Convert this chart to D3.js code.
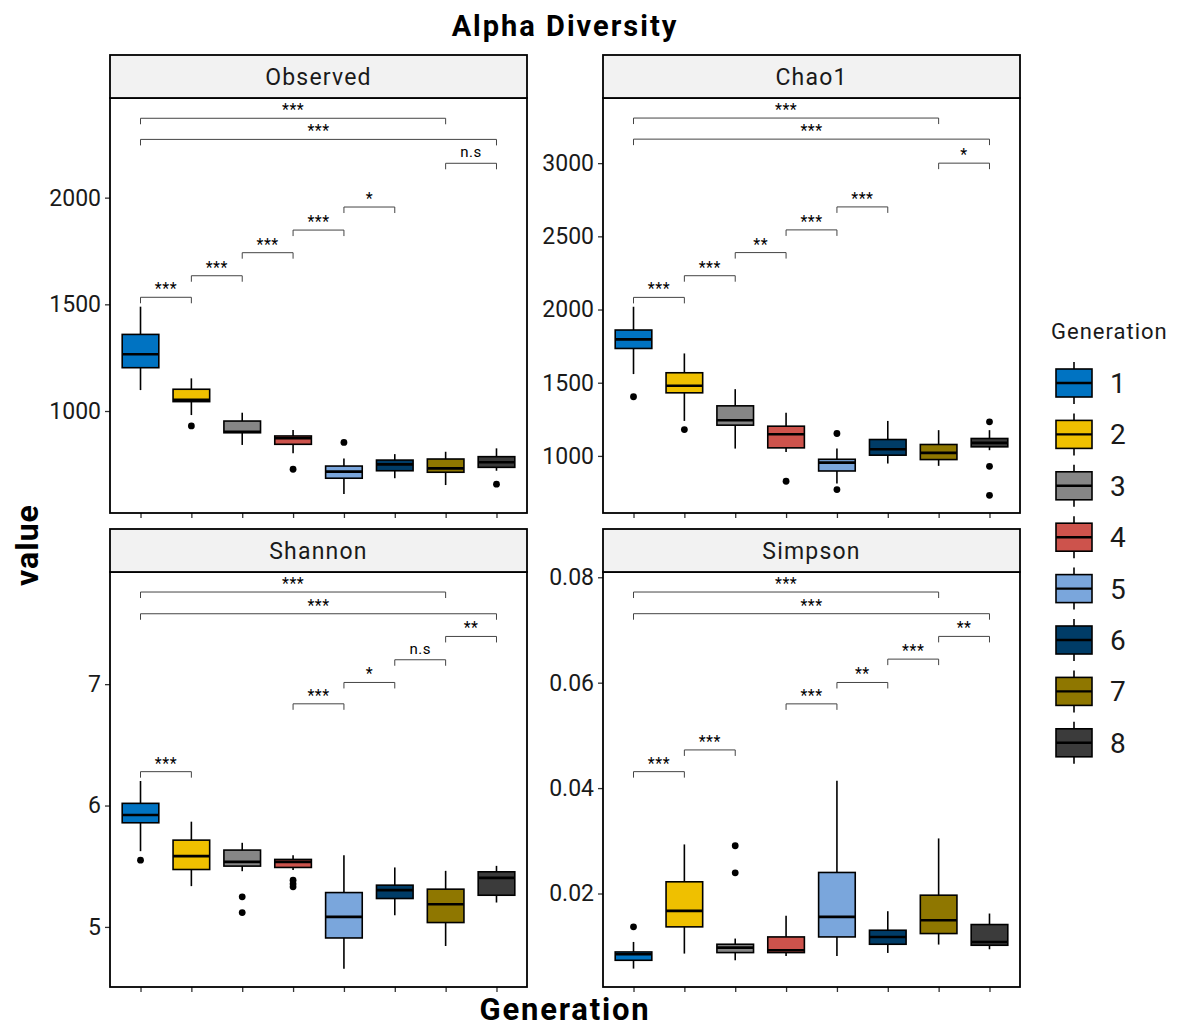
<!DOCTYPE html>
<html>
<head>
<meta charset="utf-8">
<script src="https://cdn.jsdelivr.net/npm/d3@7"></script>
<style>
  body { margin: 0; background: #fff; }
  svg { font-family: Roboto, "Noto Sans", sans-serif; }
</style>
</head>
<body>
<svg id="chart" width="1183" height="1029"></svg>
<script>
var generations = ["1", "2", "3", "4", "5", "6", "7", "8"];
var genColors = ["#0073C2", "#EFC000", "#868686", "#CD534C", "#7AA6DC", "#003C67", "#8F7700", "#3B3B3B"];
var metrics = ["Observed", "Chao1", "Shannon", "Simpson"];

// [lower whisker, Q1, median, Q3, upper whisker]
var observedStats = [
    [1098, 1203, 1266, 1359, 1489],
    [981, 1044, 1052, 1102, 1153],
    [841, 898, 903, 953, 992],
    [802, 844, 872, 883, 911],
    [611, 685, 716, 742, 778],
    [685, 720, 750, 770, 798],
    [653, 713, 731, 775, 809],
    [720, 736, 760, 786, 825]
];
var observedOutliers = [[], [930], [], [727], [853], [], [], [657]];

var chao1Stats = [
    [1559, 1734, 1796, 1860, 2019],
    [1239, 1431, 1479, 1568, 1700],
    [1050, 1210, 1244, 1342, 1456],
    [1027, 1055, 1148, 1203, 1294],
    [811, 897, 954, 977, 1050],
    [948, 1005, 1046, 1112, 1239],
    [932, 975, 1021, 1078, 1176],
    [1039, 1062, 1089, 1119, 1176]
];
var chao1Outliers = [[1404], [1180], [], [827], [1153, 770], [], [], [1233, 929, 731]];

var shannonStats = [
    [5.624, 5.858, 5.922, 6.018, 6.202],
    [5.336, 5.473, 5.583, 5.715, 5.867],
    [5.459, 5.501, 5.536, 5.633, 5.693],
    [5.468, 5.490, 5.536, 5.556, 5.591],
    [4.656, 4.909, 5.083, 5.283, 5.591],
    [5.096, 5.234, 5.303, 5.344, 5.490],
    [4.843, 5.036, 5.187, 5.311, 5.462],
    [5.201, 5.261, 5.404, 5.454, 5.503]
];
var shannonOutliers = [[5.550], [], [5.248, 5.118], [5.385, 5.355, 5.330], [], [], [], []];

var simpsonStats = [
    [0.00575, 0.00733, 0.00847, 0.00891, 0.01081],
    [0.00860, 0.01367, 0.01671, 0.02222, 0.02931],
    [0.00733, 0.00879, 0.00974, 0.01037, 0.01145],
    [0.00815, 0.00879, 0.00923, 0.01176, 0.01576],
    [0.00815, 0.01176, 0.01557, 0.02399, 0.04141],
    [0.00872, 0.01037, 0.01176, 0.01303, 0.01664],
    [0.01031, 0.01240, 0.01493, 0.01968, 0.03045],
    [0.00942, 0.01018, 0.01081, 0.01411, 0.01620]
];
var simpsonOutliers = [[0.01367], [], [0.02906, 0.02393], [], [], [], [], []];

// [from group, to group, bracket value, label]
var observedSig = [
    [1, 7, 2372, "***"], [1, 8, 2273, "***"], [7, 8, 2161, "n.s"],
    [5, 6, 1956, "*"], [4, 5, 1848, "***"], [3, 4, 1742, "***"],
    [2, 3, 1634, "***"], [1, 2, 1533, "***"]
];
var chao1Sig = [
    [1, 7, 3308, "***"], [1, 8, 3164, "***"], [7, 8, 3000, "*"],
    [5, 6, 2701, "***"], [4, 5, 2544, "***"], [3, 4, 2389, "**"],
    [2, 3, 2231, "***"], [1, 2, 2083, "***"]
];
var shannonSig = [
    [1, 7, 7.759, "***"], [1, 8, 7.580, "***"], [7, 8, 7.393, "**"],
    [6, 7, 7.201, "n.s"], [5, 6, 7.014, "*"], [4, 5, 6.838, "***"],
    [1, 2, 6.279, "***"]
];
var simpsonSig = [
    [1, 7, 0.07720, "***"], [1, 8, 0.07309, "***"], [7, 8, 0.06878, "**"],
    [6, 7, 0.06447, "***"], [5, 6, 0.06004, "**"], [4, 5, 0.05598, "***"],
    [2, 3, 0.04724, "***"], [1, 2, 0.04312, "***"]
];

var yDomains = [[522, 2467], [610, 3445], [4.505, 7.924], [0.00226, 0.0810]];
var yTicks = [[1000, 1500, 2000], [1000, 1500, 2000, 2500, 3000], [5, 6, 7], [0.02, 0.04, 0.06, 0.08]];

var panelData = [
    { stats: observedStats, outliers: observedOutliers, sig: observedSig, fmt: d3.format("d") },
    { stats: chao1Stats, outliers: chao1Outliers, sig: chao1Sig, fmt: d3.format("d") },
    { stats: shannonStats, outliers: shannonOutliers, sig: shannonSig, fmt: d3.format("d") },
    { stats: simpsonStats, outliers: simpsonOutliers, sig: simpsonSig, fmt: d3.format(".2f") }
];

var svg = d3.select("#chart");
var panelW = 417, panelH = 415, stripH = 43;
var panelX = [110, 603, 110, 603];
var panelY = [98, 98, 572, 572];

svg.append("text")
    .attr("x", 565).attr("y", 36)
    .attr("text-anchor", "middle")
    .attr("font-size", 29).attr("font-weight", "bold")
    .attr("letter-spacing", 2)
    .attr("fill", "#000")
    .text("Alpha Diversity");

metrics.forEach(function (name, i) {
    var d = panelData[i];
    var x0 = panelX[i], y0 = panelY[i];
    var g = svg.append("g");

    var x = d3.scalePoint().domain(generations).range([x0, x0 + panelW]).padding(0.6);
    var y = d3.scaleLinear().domain(yDomains[i]).range([y0 + panelH, y0]);
    var bw = x.step() * 0.72;

    // axes
    var yAxis = d3.axisLeft(y).tickValues(yTicks[i]).tickFormat(d.fmt).tickSize(5).tickPadding(4);
    var ya = g.append("g").attr("transform", "translate(" + x0 + ",0)").call(yAxis);
    ya.select(".domain").remove();
    ya.selectAll(".tick line").attr("stroke", "#333").attr("stroke-width", 1.3);
    ya.selectAll(".tick text").attr("font-size", 23).attr("fill", "#1a1a1a")
        .attr("font-family", "Roboto, sans-serif");

    var xAxis = d3.axisBottom(x).tickSize(5).tickFormat("");
    var xa = g.append("g").attr("transform", "translate(0," + (y0 + panelH) + ")").call(xAxis);
    xa.select(".domain").remove();
    xa.selectAll(".tick line").attr("stroke", "#333").attr("stroke-width", 1.3);

    // boxes
    var boxes = g.selectAll("g.box").data(d.stats).enter().append("g").classed("box", true);
    boxes.append("line")
        .attr("x1", function (s, j) { return x(generations[j]); })
        .attr("x2", function (s, j) { return x(generations[j]); })
        .attr("y1", function (s) { return y(s[0]); })
        .attr("y2", function (s) { return y(s[4]); })
        .attr("stroke", "#000").attr("stroke-width", 1.6);
    boxes.append("rect")
        .attr("x", function (s, j) { return x(generations[j]) - bw / 2; })
        .attr("y", function (s) { return y(s[3]); })
        .attr("width", bw)
        .attr("height", function (s) { return Math.max(0.5, y(s[1]) - y(s[3])); })
        .attr("fill", function (s, j) { return genColors[j]; })
        .attr("stroke", "#000").attr("stroke-width", 1.6);
    boxes.append("line")
        .attr("x1", function (s, j) { return x(generations[j]) - bw / 2; })
        .attr("x2", function (s, j) { return x(generations[j]) + bw / 2; })
        .attr("y1", function (s) { return y(s[2]); })
        .attr("y2", function (s) { return y(s[2]); })
        .attr("stroke", "#000").attr("stroke-width", 2.6);

    d.outliers.forEach(function (pts, j) {
        g.selectAll(null).data(pts).enter().append("circle")
            .attr("cx", x(generations[j]))
            .attr("cy", function (v) { return y(v); })
            .attr("r", 3.4)
            .attr("fill", "#000");
    });

    // significance brackets
    var sig = g.selectAll("g.sig").data(d.sig).enter().append("g").classed("sig", true);
    sig.append("path")
        .attr("d", function (s) {
            var xa1 = x(generations[s[0] - 1]), xa2 = x(generations[s[1] - 1]), yy = y(s[2]);
            return "M" + xa1 + "," + (yy + 6) + "V" + yy + "H" + xa2 + "V" + (yy + 6);
        })
        .attr("fill", "none").attr("stroke", "#444").attr("stroke-width", 1);
    sig.append("text")
        .attr("x", function (s) { return (x(generations[s[0] - 1]) + x(generations[s[1] - 1])) / 2; })
        .attr("y", function (s) { return y(s[2]) - (s[3] === "n.s" ? 6 : 3); })
        .attr("text-anchor", "middle")
        .attr("font-size", function (s) { return s[3] === "n.s" ? 15 : 16; })
        .attr("letter-spacing", 0.5)
        .attr("fill", "#000")
        .text(function (s) { return s[3]; });

    // panel border
    g.append("rect")
        .attr("x", x0).attr("y", y0).attr("width", panelW).attr("height", panelH)
        .attr("fill", "none").attr("stroke", "#000").attr("stroke-width", 1.8);

    // strip on top of panel content
    g.append("rect")
        .attr("x", x0).attr("y", y0 - stripH).attr("width", panelW).attr("height", stripH)
        .attr("fill", "#F2F2F2").attr("stroke", "#000").attr("stroke-width", 1.8);
    g.append("text")
        .attr("x", x0 + panelW / 2).attr("y", y0 - stripH / 2)
        .attr("dy", "0.36em")
        .attr("text-anchor", "middle")
        .attr("font-size", 23).attr("fill", "#1a1a1a")
        .attr("letter-spacing", 1.2)
        .text(name);
});

// axis titles
svg.append("text")
    .attr("transform", "translate(38,545) rotate(-90)")
    .attr("text-anchor", "middle")
    .attr("font-size", 32).attr("font-weight", "bold")
    .attr("letter-spacing", 1)
    .text("value");
svg.append("text")
    .attr("x", 565).attr("y", 1020)
    .attr("text-anchor", "middle")
    .attr("font-size", 31).attr("font-weight", "bold")
    .attr("letter-spacing", 1.8)
    .text("Generation");

// legend
var legend = svg.append("g");
legend.append("text")
    .attr("x", 1051).attr("y", 339)
    .attr("font-size", 22).attr("fill", "#1a1a1a")
    .attr("letter-spacing", 1)
    .text("Generation");
var keys = legend.selectAll("g.key").data(generations).enter().append("g")
    .classed("key", true)
    .attr("transform", function (gen, j) { return "translate(1074," + (383 + j * 51.4) + ")"; });
keys.append("line")
    .attr("y1", -21).attr("y2", 21)
    .attr("stroke", "#000").attr("stroke-width", 1.6);
keys.append("rect")
    .attr("x", -18).attr("y", -14).attr("width", 36).attr("height", 28)
    .attr("fill", function (gen, j) { return genColors[j]; })
    .attr("stroke", "#000").attr("stroke-width", 1.6);
keys.append("line")
    .attr("x1", -18).attr("x2", 18)
    .attr("stroke", "#000").attr("stroke-width", 2.4);
keys.append("text")
    .attr("x", 36).attr("dy", "0.36em")
    .attr("font-size", 28).attr("fill", "#1a1a1a")
    .text(function (gen) { return gen; });
</script>
</body>
</html>
